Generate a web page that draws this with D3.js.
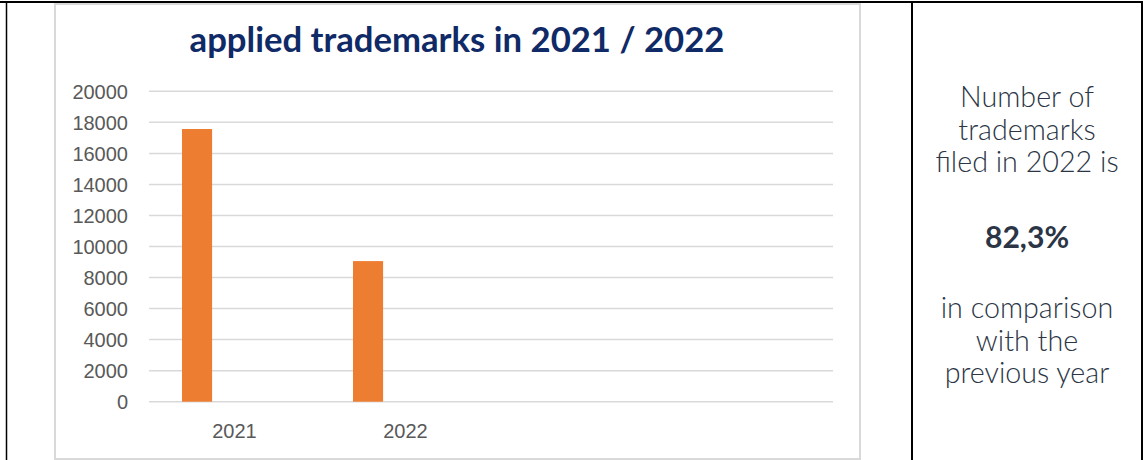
<!DOCTYPE html>
<html>
<head>
<meta charset="utf-8">
<script src="https://cdn.jsdelivr.net/npm/d3@7"></script>
<style>
  html, body { margin: 0; padding: 0; background: #fff; }
  svg { display: block; }
</style>
</head>
<body>
<div id="chart"></div>
<script>
// data
const categories = ['2021', '2022', '', ''];
const applied = [17570, 9060, null, null];
const yTicks = [0, 2000, 4000, 6000, 8000, 10000, 12000, 14000, 16000, 18000, 20000];
const title = 'applied trademarks in 2021 / 2022';
const noteTop = ['Number of', 'trademarks', 'filed in 2022 is'];
const noteValue = '82,3%';
const noteBottom = ['in comparison', 'with the', 'previous year'];

const W = 1143, H = 460;
const svg = d3.select('#chart').append('svg')
    .attr('width', W).attr('height', H);

// table borders
svg.append('line').attr('x1', 0).attr('x2', W).attr('y1', 2).attr('y2', 2)
    .attr('stroke', '#000').attr('stroke-width', 2);
[6.5, 912, 1142].forEach(function(x) {
    svg.append('line').attr('x1', x).attr('x2', x).attr('y1', 1).attr('y2', H)
        .attr('stroke', '#000').attr('stroke-width', x < 10 ? 1.5 : 2);
});

// chart frame
svg.append('rect').attr('x', 55).attr('y', 4).attr('width', 805).attr('height', 455)
    .attr('fill', '#fff').attr('stroke', '#d9d9d9').attr('stroke-width', 2);

var margin = { left: 149, right: W - 833, top: 91.3, bottom: H - 401.7 };

var x = d3.scaleBand()
    .domain(d3.range(categories.length))
    .range([margin.left, W - margin.right])
    .padding(0);

var y = d3.scaleLinear()
    .domain([0, 20000])
    .range([H - margin.bottom, margin.top]);

// gridlines
svg.append('g')
    .selectAll('line')
    .data(yTicks)
    .enter().append('line')
    .attr('x1', margin.left).attr('x2', W - margin.right)
    .attr('y1', d => y(d)).attr('y2', d => y(d))
    .attr('stroke', '#d9d9d9').attr('stroke-width', 1.5);

// y axis labels
var yAxis = d3.axisLeft(y).tickValues(yTicks).tickSize(0).tickPadding(0).tickFormat(d3.format('d'));
var gy = svg.append('g').attr('transform', 'translate(128,0)').call(yAxis);
gy.select('.domain').remove();
gy.selectAll('text')
    .style('font-family', 'Liberation Sans, Arial, sans-serif')
    .style('font-size', '20px')
    .attr('fill', '#595959')
    .attr('dy', '0.35em');

// x axis labels
var xAxis = d3.axisBottom(x).tickSize(0).tickPadding(0).tickFormat(i => categories[i]);
var gx = svg.append('g').attr('transform', 'translate(0,' + (H - margin.bottom) + ')').call(xAxis);
gx.select('.domain').remove();
gx.selectAll('text')
    .style('font-family', 'Liberation Sans, Arial, sans-serif')
    .style('font-size', '20px')
    .attr('fill', '#595959')
    .attr('y', 29)
    .attr('dy', '0.35em');

// bars (first series slot of each category)
var barOffset = x.bandwidth() * 0.193;
var barWidth = x.bandwidth() * 0.176;
svg.append('g')
    .selectAll('rect')
    .data(applied.map((v, i) => ({ i: i, v: v })).filter(d => d.v != null))
    .enter().append('rect')
    .attr('x', d => x(d.i) + barOffset)
    .attr('width', barWidth)
    .attr('y', d => y(d.v))
    .attr('height', d => y(0) - y(d.v))
    .attr('fill', '#ED7D31');

// title
var t = svg.append('text')
    .attr('x', 457).attr('y', 52)
    .attr('text-anchor', 'middle')
    .style('font-family', 'Lato, Open Sans, sans-serif')
    .style('font-weight', 'bold')
    .style('font-size', '28px')
    .attr('fill', '#0f2a66')
    .text(title);
var tw = t.node().getComputedTextLength();
t.style('font-size', (28 * 535 / tw) + 'px');

// side note
var cx = 1027;
var note = svg.append('g')
    .style('font-family', 'Lato, Open Sans, sans-serif')
    .attr('fill', '#2b3545')
    .attr('text-anchor', 'middle');

function noteLine(txt, yy, weight) {
    return note.append('text').attr('x', cx).attr('y', yy)
        .attr('dy', '0.35em')
        .style('font-size', '25px')
        .style('font-weight', weight)
        .text(txt);
}
var p1 = noteLine(noteBottom[0], 308, 300);
var p2 = noteLine(noteTop[2], 308, 300);
var fs = 25 * 356 / (p1.node().getComputedTextLength() + p2.node().getComputedTextLength());
p1.remove(); p2.remove();

noteTop.forEach((s, i) => noteLine(s, 97 + i * 32.5, 300).style('font-size', fs + 'px'));
noteLine(noteValue, 237, 'bold').style('font-size', (fs * 1.05) + 'px');
noteBottom.forEach((s, i) => noteLine(s, 308 + i * 32.5, 300).style('font-size', fs + 'px'));
</script>
</body>
</html>
